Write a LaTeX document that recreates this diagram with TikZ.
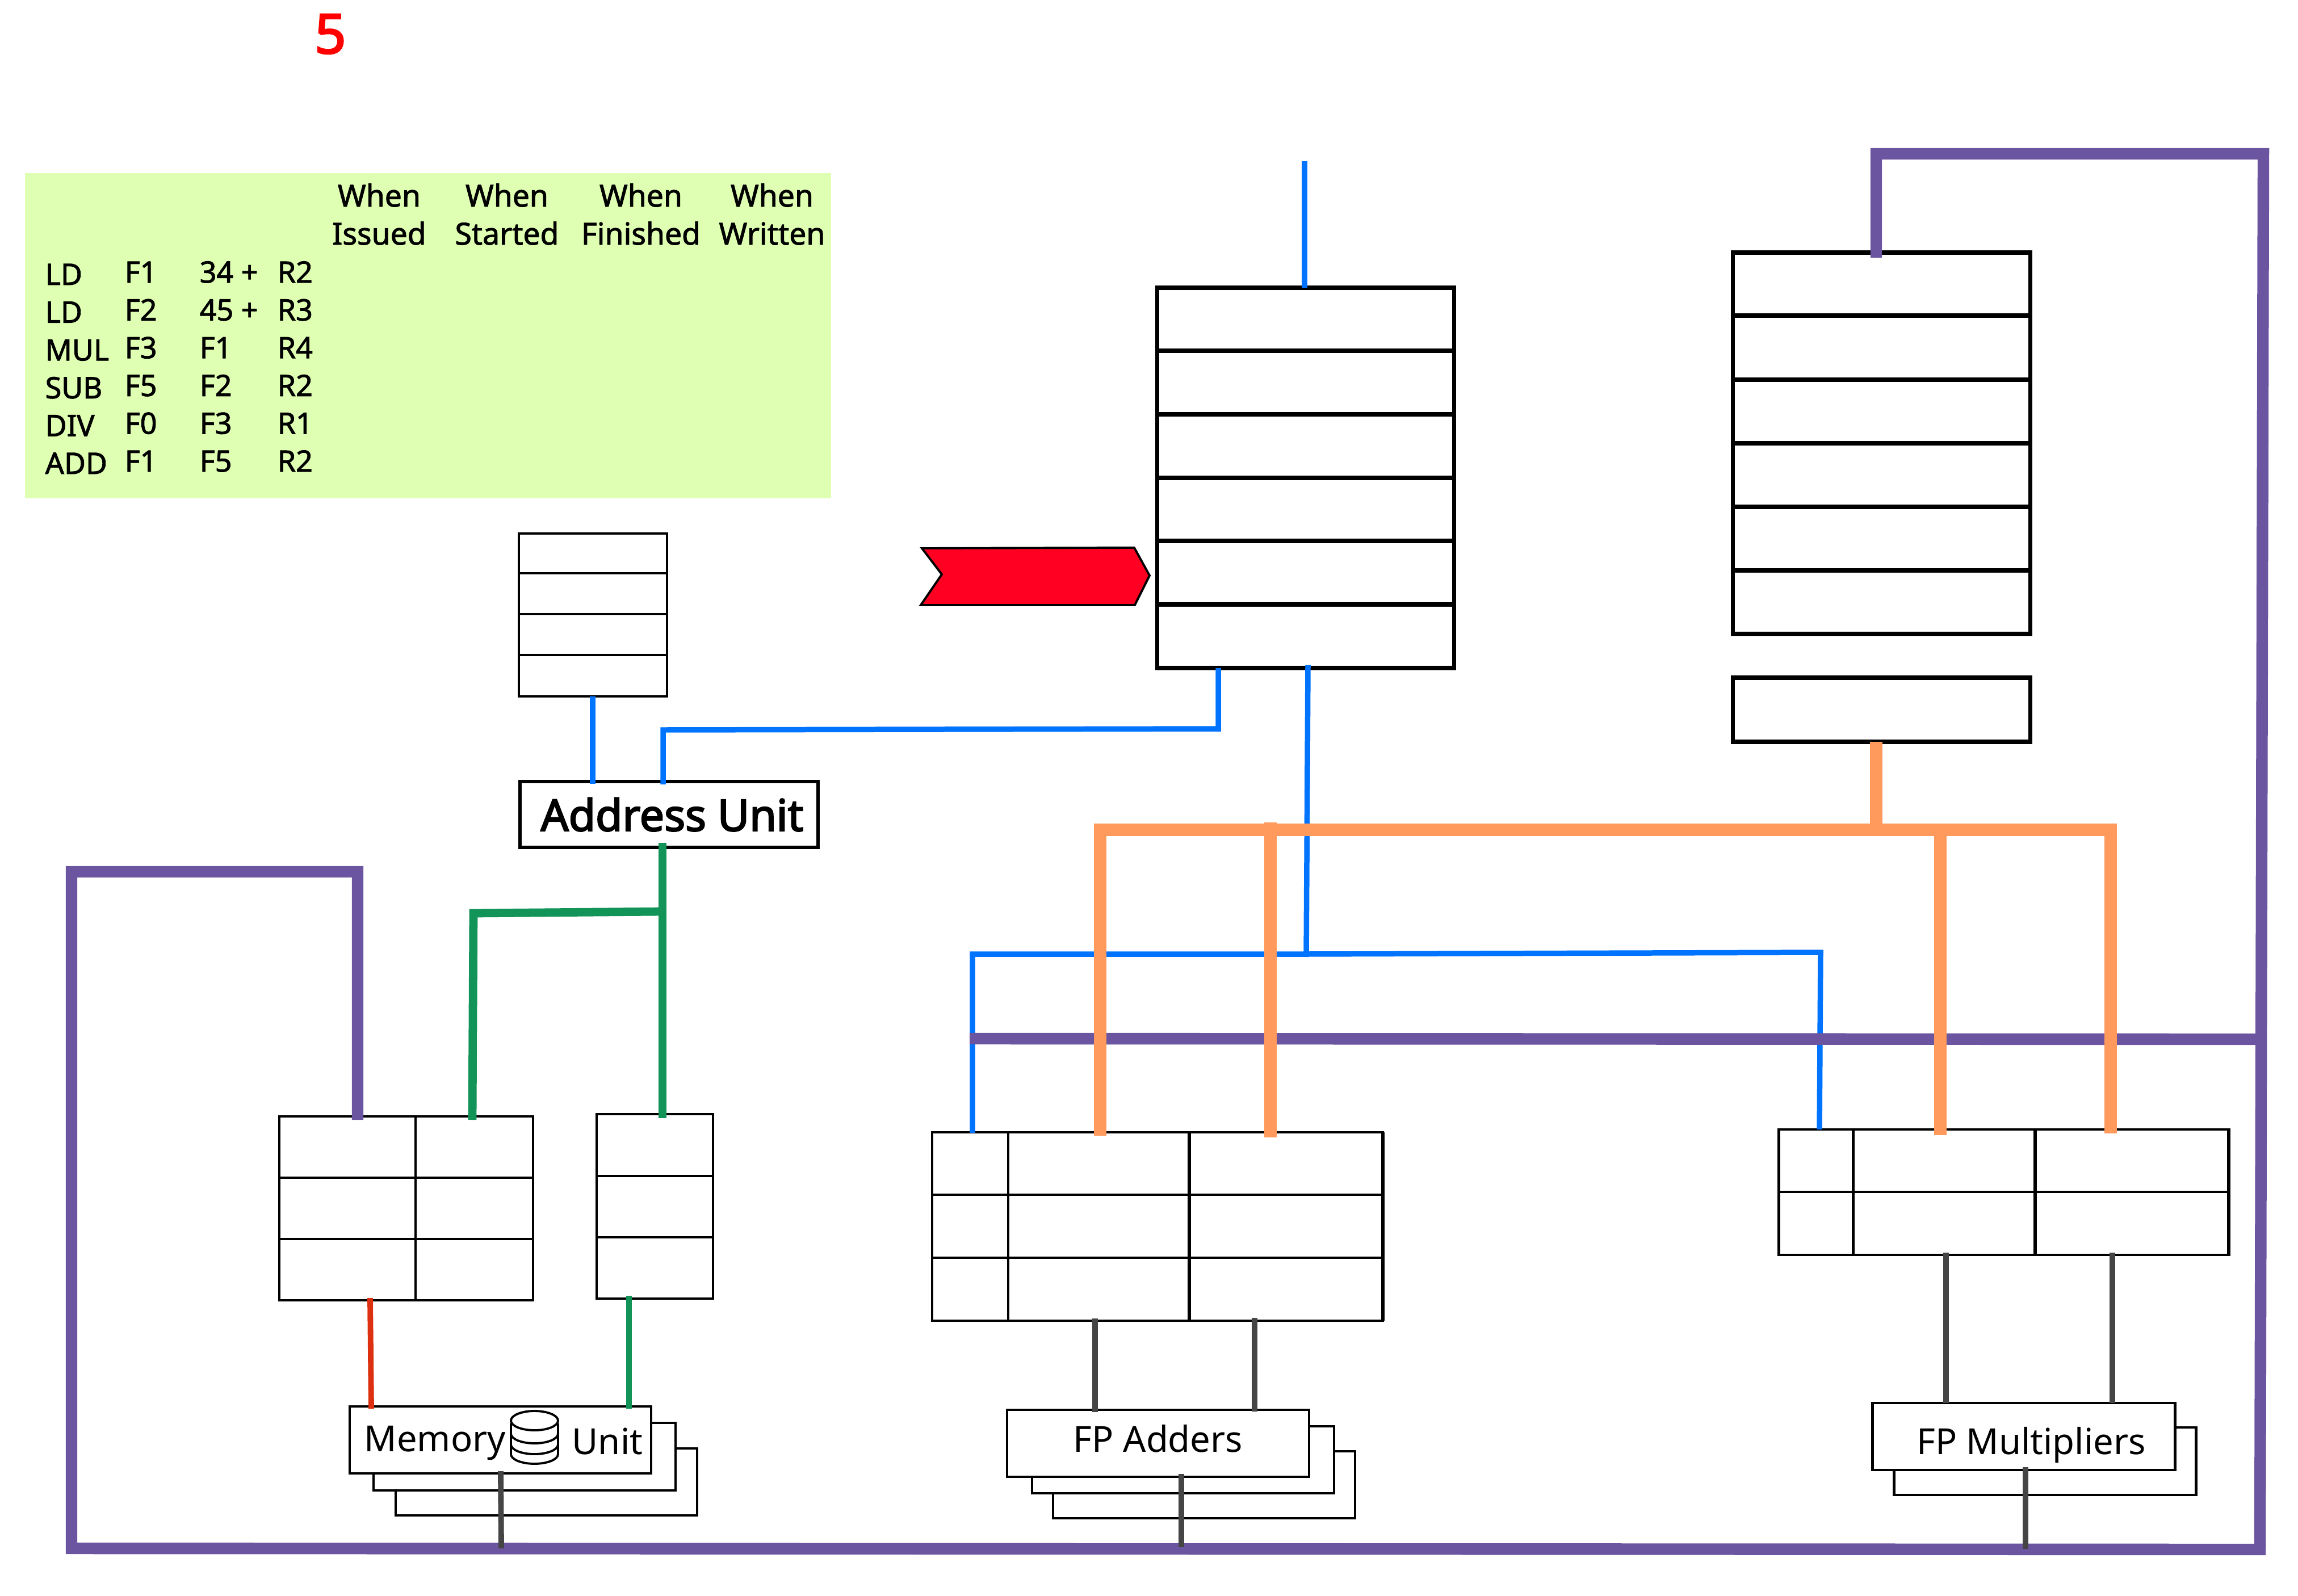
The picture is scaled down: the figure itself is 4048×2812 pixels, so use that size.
\documentclass[tikz,border=0pt]{standalone}
\usepackage{fontspec}
\setmainfont{Noto Sans}
\newfontfamily\medfont[FakeBold=1.8]{Noto Sans}
\newfontfamily\heavyfont[FakeBold=3]{Noto Sans}
\definecolor{tablegreen}{HTML}{DFFFB3}
\definecolor{buspurple}{HTML}{6C55A0}
\definecolor{busorange}{HTML}{FF9A5C}
\definecolor{busblue}{HTML}{0073FF}
\definecolor{busgreen}{HTML}{129357}
\definecolor{busred}{HTML}{DC3010}
\definecolor{busgray}{HTML}{454545}
\definecolor{pointerred}{HTML}{FF0022}
% node from its corners, in picture units
\newcommand{\cellat}[6][]{\node[cell,#1,minimum width={(#4-#2)*0.01cm},minimum height={(#5-#3)*0.01cm}] (#6) at ({(#2+#4)/2},{(#3+#5)/2}) {};}
\tikzset{
  cell/.style={draw=black,fill=white,line width=1.4pt,inner sep=0pt,outer sep=0pt},
  heavycell/.style={line width=2pt},
  heavyedge/.style={draw=black,line width=1.8pt},
  unitlabel/.style={anchor=base west,inner sep=0pt,font=\fontsize{18}{20}\selectfont},
  tabletext/.style={anchor=base west,inner sep=0pt,font=\medfont\fontsize{14.8}{18}\selectfont},
  headtext/.style={anchor=base,inner sep=0pt,font=\medfont\fontsize{15.2}{18}\selectfont},
  purplebus/.style={draw=buspurple,line width=5.8pt},
  orangebus/.style={draw=busorange,line width=6pt},
  bluebus/.style={draw=busblue,line width=2.7pt},
  greenbus/.style={draw=busgreen,line width=4.2pt},
  graybus/.style={draw=busgray,line width=2.8pt},
}
\begin{document}
\begin{tikzpicture}[x=0.01cm,y=-0.01cm]
  \useasboundingbox (0,0) rectangle (4048,2812);

  \node[red,inner sep=0pt,font=\heavyfont\fontsize{27.5}{30}\selectfont] (count) at (582,60) {5};

  % instruction table
  \fill[tablegreen] (44,305) rectangle (1464,878);
  \foreach \hx/\htop/\hbot [count=\i] in {668/When/Issued,893/When/Started,1129/When/Finished,1360/When/Written} {
    \node[headtext] (top\i) at (\hx,364) {\htop};
    \node[headtext] (bot\i) at (\hx,431) {\hbot};
  }
  \foreach \op/\dst/\off/\src [count=\i] in {LD/F1/34 +/R2,LD/F2/45 +/R3,MUL/F3/F1/R4,SUB/F5/F2/R2,DIV/F0/F3/R1,ADD/F1/F5/R2} {
    \pgfmathsetmacro{\base}{502+66.6*(\i-1)}
    \node[tabletext] (op\i) at (79,\base) {\op};
    \node[tabletext] (dst\i) at (219,\base-4) {\dst};
    \node[tabletext] (off\i) at (351,\base-4) {\off};
    \node[tabletext] (src\i) at (488,\base-4) {\src};
  }

  % queues
  \foreach \i/\ya/\yb in {1/507/618,2/618/730,3/730/842,4/842/953,5/953/1065,6/1065/1177} {
    \cellat[heavycell]{2038}{\ya}{2561}{\yb}{fifo\i}
  }
  \foreach \i/\ya/\yb in {1/445/556,2/556/669,3/669/781,4/781/893,5/893/1005,6/1005/1117} {
    \cellat[heavycell]{3052}{\ya}{3576}{\yb}{regs\i}
  }
  \cellat[heavycell]{3052}{1194}{3576}{1307}{cdb}
  \foreach \i/\ya/\yb in {1/940/1010,2/1010/1082,3/1082/1154,4/1154/1227} {
    \cellat{914}{\ya}{1175}{\yb}{addr\i}
  }
  \cellat[line width=1.6pt]{916}{1377}{1441}{1493}{aunit}
  \node[anchor=base,font=\heavyfont\fontsize{21.9}{24}\selectfont,inner sep=0pt] (aunitlabel) at (1184,1464) {Address Unit};

  % load and store buffers
  \foreach \i/\ya/\yb in {1/1967/2075,2/2075/2183,3/2183/2291} {
    \cellat{492}{\ya}{732}{\yb}{loada\i}
    \cellat{732}{\ya}{939}{\yb}{loadb\i}
  }
  \foreach \i/\ya/\yb in {1/1963/2072,2/2072/2180,3/2180/2288} {
    \cellat{1051}{\ya}{1256}{\yb}{store\i}
  }

  % reservation stations
  \foreach \i/\ya/\yb in {1/1995/2105,2/2105/2216,3/2216/2327} {
    \cellat{1642}{\ya}{1776}{\yb}{adda\i}
    \cellat{1776}{\ya}{2095}{\yb}{addb\i}
    \cellat{2095}{\ya}{2436}{\yb}{addc\i}
  }
  \draw[heavyedge] (addc1.north west) -- (addc3.south west);
  \draw[heavyedge] (addc1.north east) -- (addc3.south east);
  \foreach \i/\ya/\yb in {1/1990/2100,2/2100/2211} {
    \cellat{3133}{\ya}{3264}{\yb}{mula\i}
    \cellat{3264}{\ya}{3585}{\yb}{mulb\i}
    \cellat{3585}{\ya}{3926}{\yb}{mulc\i}
  }
  \draw[heavyedge] (mulc1.north west) -- (mulc2.south west);
  \draw[heavyedge] (mulc1.north east) -- (mulc2.south east);

  % functional units, back to front
  \cellat{697}{2552}{1228}{2670}{memc}
  \cellat{658}{2507}{1190}{2626}{memb}
  \cellat{616}{2478}{1147}{2596}{mema}
  \node[unitlabel] (memlabel) at (641,2557) {Memory};
  \node[unitlabel] (unitlabel) at (1007,2562) {Unit};
  \cellat{1855}{2557}{2387}{2675}{addunitc}
  \cellat{1818}{2513}{2350}{2631}{addunitb}
  \cellat{1774}{2484}{2306}{2602}{addunita}
  \node[unitlabel,anchor=base] (addlabel) at (2040,2558) {FP Adders};
  \cellat{3336}{2515}{3868}{2634}{mulunitb}
  \cellat{3298}{2472}{3831}{2590}{mulunita}
  \node[unitlabel,anchor=base] (mullabel) at (3578,2562) {FP Multipliers};

  % database icon
  \draw[line width=1.1pt,fill=white] (900,2508) -- (900,2562) arc[start angle=180,end angle=360,x radius=41.5,y radius=-17] -- (983,2508);
  \draw[line width=1.1pt] (900,2526) arc[start angle=180,end angle=360,x radius=41.5,y radius=-17];
  \draw[line width=1.1pt] (900,2545) arc[start angle=180,end angle=360,x radius=41.5,y radius=-17];
  \draw[line width=1.1pt] (941.5,2503) ellipse[x radius=41.5,y radius=17];

  % pointer
  \filldraw[fill=pointerred,draw=black,line width=1.1pt] (1624,966) -- (1998,965) -- (2025,1014) -- (1999,1066) -- (1622,1066) -- (1659,1012) -- cycle;

  % bus end points
  \coordinate (opsin) at (2298,284);
  \coordinate (fifoa) at (2146,1177);
  \coordinate (fifoturn) at (2146,1284);
  \coordinate (aunitin) at (1168,1286);
  \coordinate (aunitend) at (1168,1382);
  \coordinate (fifob) at (2304,1172);
  \coordinate (busjoin) at (2301,1686);
  \coordinate (busmid) at (2300,1681);
  \coordinate (busleft) at (1713,1681);
  \coordinate (busright) at (3207,1678);
  \coordinate (addin) at (1713,1996);
  \coordinate (mulin) at (3205,1990);
  \coordinate (addrout) at (1044,1227);
  \coordinate (aunitaddr) at (1044,1381);

  \draw[bluebus] (opsin) -- (fifo1.north -| opsin);
  \draw[bluebus] (fifoa) -- (fifoturn) -- (aunitin) -- (aunitend);
  \draw[bluebus] (addrout) -- (aunitaddr);
  \draw[bluebus] (fifob) -- (busjoin);
  \draw[bluebus] (addin) -- (busleft) -- (busmid) -- (busright) -- (mulin);

  % purple write-back bus
  \coordinate (wbtop) at (3305,454);
  \coordinate (wbup) at (3305,271);
  \coordinate (wbcorner) at (3987,271);
  \coordinate (wbright) at (3981,2730);
  \coordinate (wbmida) at (1708,1830);
  \coordinate (wbmidb) at (3984,1831);
  \coordinate (wbleft) at (126,2728);
  \coordinate (wbltop) at (126,1536);
  \coordinate (wbloadtop) at (630,1536);
  \coordinate (wbload) at (630,1973);
  \draw[purplebus] (wbtop) -- (wbup) -- (wbcorner) -- (wbright) -- (wbleft) -- (wbltop) -- (wbloadtop) -- (wbload);
  \draw[purplebus] (wbmida) -- (wbmidb);

  % orange data bus
  \coordinate (cdbout) at (3305,1307);
  \coordinate (cdbjoin) at (3305,1462);
  \coordinate (orleft) at (1938,1462);
  \coordinate (orright) at (3718,1462);
  \coordinate (oradda) at (1938,2001);
  \coordinate (orcross) at (2238,1449);
  \coordinate (oraddb) at (2238,2004);
  \coordinate (ormula) at (3418,1462);
  \coordinate (ormulb) at (3418,2000);
  \coordinate (ormulc) at (3718,1997);
  \draw[orangebus] (cdbout) -- (cdbjoin);
  \draw[orangebus] (oradda) -- (orleft) -- (orright) -- (ormulc);
  \draw[orangebus] (orcross) -- (oraddb);
  \draw[orangebus] (ormula) -- (ormulb);

  % green address bus
  \coordinate (grstart) at (1167,1485);
  \coordinate (grjoin) at (1167,1606);
  \coordinate (grturn) at (834,1609);
  \coordinate (grload) at (832,1973);
  \coordinate (grstore) at (1167,1970);
  \draw[greenbus] (grstart) -- (grstore);
  \draw[greenbus] (grjoin) -- (grturn) -- (grload);

  % from the buffers to memory
  \coordinate (redtop) at (652,2287);
  \coordinate (redbot) at (654,2482);
  \coordinate (stgtop) at (1108,2283);
  \coordinate (stgbot) at (1108,2482);
  \draw[draw=busred,line width=2.8pt] (redtop) -- (redbot);
  \draw[draw=busgreen,line width=2.8pt] (stgtop) -- (stgbot);

  % gray links
  \coordinate (graya) at (882,2592);
  \coordinate (grayb) at (883,2728);
  \coordinate (grayc) at (1929,2323);
  \coordinate (grayd) at (1929,2488);
  \coordinate (graye) at (2210,2322);
  \coordinate (grayf) at (2210,2487);
  \coordinate (grayg) at (2081,2597);
  \coordinate (grayh) at (2081,2726);
  \coordinate (grayi) at (3428,2207);
  \coordinate (grayj) at (3428,2472);
  \coordinate (grayk) at (3721,2207);
  \coordinate (grayl) at (3721,2472);
  \coordinate (graym) at (3568,2585);
  \coordinate (grayn) at (3568,2729);
  \draw[graybus] (graya) -- (grayb);
  \draw[graybus] (grayc) -- (grayd);
  \draw[graybus] (graye) -- (grayf);
  \draw[graybus] (grayg) -- (grayh);
  \draw[graybus] (grayi) -- (grayj);
  \draw[graybus] (grayk) -- (grayl);
  \draw[graybus] (graym) -- (grayn);
\end{tikzpicture}
\end{document}
